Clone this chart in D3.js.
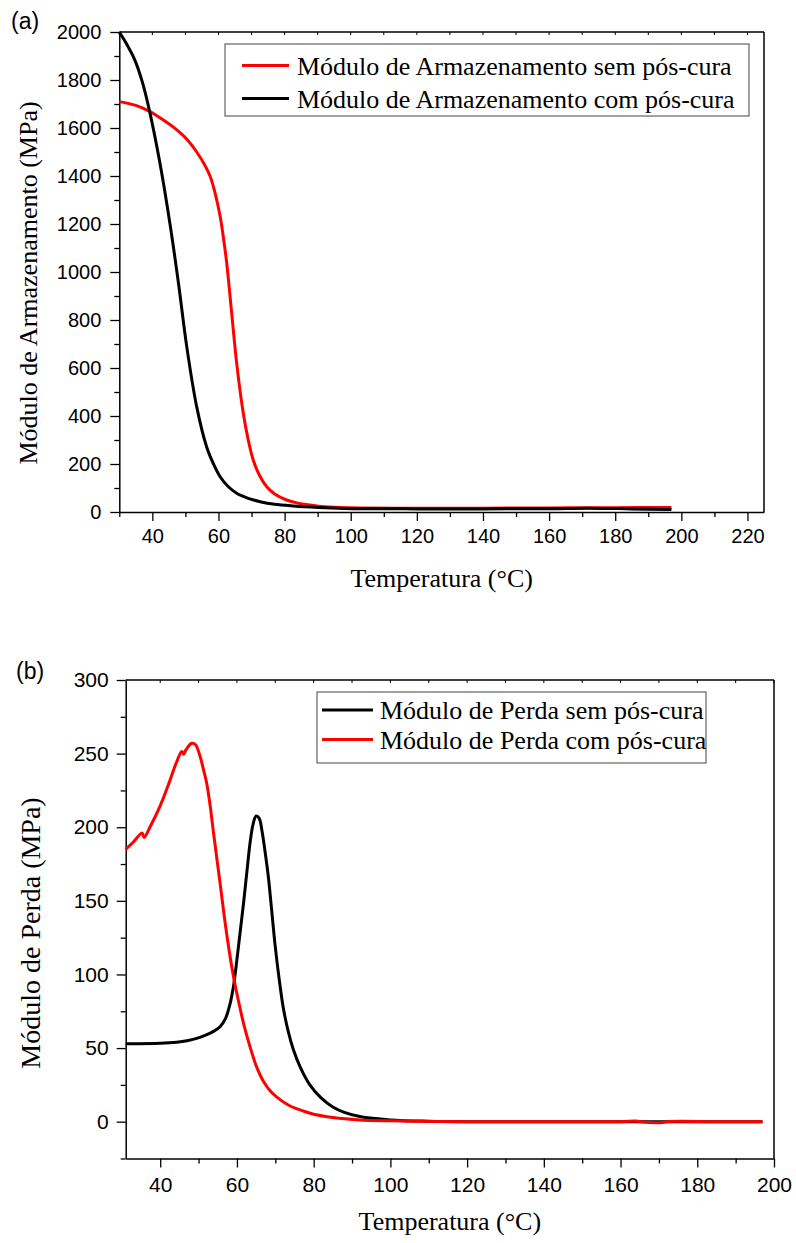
<!DOCTYPE html>
<html>
<head>
<meta charset="utf-8">
<script src="https://cdn.jsdelivr.net/npm/d3@7"></script>
<style>
body { margin: 0; background: #fff; }
</style>
</head>
<body>
<svg id="chart" width="796" height="1243"></svg>
<script>
// Panel (a) - storage modulus
var tempArmSem = [30, 35, 39.3, 43, 47.4, 50.5, 53.4, 56, 57.5, 59, 60.5, 61.5, 62.5, 64, 65.5, 67.5, 69, 70.5, 72.5, 74.6, 77, 80.6, 84, 87.7, 92, 100, 120, 140, 160, 180, 197];
var valArmSem  = [1710, 1694, 1668, 1636, 1592, 1552, 1500, 1442, 1398, 1328, 1232, 1142, 1036, 828, 620, 411, 300, 217, 150, 105, 75, 50, 37, 29, 22, 18, 16, 16, 17, 18, 19];

var tempArmCom = [30, 32, 34.7, 37, 39.3, 42.3, 45.3, 47.9, 50.4, 53.4, 56.4, 58.5, 60.5, 63, 65.5, 69, 72.6, 77, 82.6, 90, 98, 120, 140, 160, 172, 185, 197];
var valArmCom  = [2000, 1955, 1883, 1790, 1661, 1453, 1203, 953, 689, 439, 272, 200, 147, 105, 78, 57, 43, 32, 25, 19, 15, 13, 13, 14, 16, 13, 10];

// Panel (b) - loss modulus
var tempPerdaSem = [31, 40, 44.3, 47, 49.5, 52, 54, 55.6, 57, 58.2, 59.1, 59.9, 60.8, 61.7, 62.6, 63.4, 64.2, 65, 65.8, 66.5, 67.3, 68.2, 69, 69.9, 71, 72.1, 73.4, 74.7, 76.5, 79, 82, 85, 88, 92, 100, 110, 120, 160, 197];
var valPerdaSem  = [53, 53.3, 54, 55, 56.6, 59, 61.5, 64.5, 70, 80, 92, 108, 128, 148, 170, 189, 202, 207.6, 206, 198, 184, 166, 145, 121, 97, 77, 61, 49, 37, 25, 16, 10, 6.3, 3.5, 1.2, 0.3, 0, 0, 0];

var tempPerdaCom = [31, 33, 35.3, 35.8, 37.5, 39.9, 42, 44.3, 45.6, 46.1, 46.7, 48.2, 49.2, 50.4, 51.2, 52.1, 53, 53.8, 55.6, 57.3, 59.1, 60.4, 61.7, 63.4, 65.1, 67, 69, 71.5, 74, 77, 80, 85, 92, 100, 110, 120, 140, 160, 164, 165, 171, 172, 185, 197];
var valPerdaCom  = [185, 190, 196, 193, 201, 214, 228, 244.5, 251.5, 249.5, 252.5, 257, 256, 248, 240, 230, 215, 198, 162, 128, 98.5, 82, 67, 51, 37.4, 27, 20, 14.5, 10.5, 7.5, 5, 2.8, 1.2, 0.6, 0.2, 0, 0, 0, 0.5, 0, -0.6, 0, 0, 0];

// ticks
var xTicksA = [40, 60, 80, 100, 120, 140, 160, 180, 200, 220];
var yTicksA = [0, 200, 400, 600, 800, 1000, 1200, 1400, 1600, 1800, 2000];
var xTicksB = [40, 60, 80, 100, 120, 140, 160, 180, 200];
var yTicksB = [0, 50, 100, 150, 200, 250, 300];

var legendA = ['Módulo de Armazenamento sem pós-cura', 'Módulo de Armazenamento com pós-cura'];
var legendB = ['Módulo de Perda sem pós-cura', 'Módulo de Perda com pós-cura'];

var SERIF = '"Liberation Serif", "Times New Roman", serif';
var SANS = '"Liberation Sans", Arial, sans-serif';

var svg = d3.select('#chart');

function rangeStep(a, b, s){
	var out = [];
	for(var v = a; v <= b + 1e-9; v += s){ out.push(v); }
	return out;
}

function drawPanel(p){
	var g = svg.append('g');
	var x = d3.scaleLinear().domain(p.xDomain).range([p.left, p.right]);
	var y = d3.scaleLinear().domain(p.yDomain).range([p.bottom, p.top]);

	// frame: top and right lines
	g.append('line').attr('x1', p.left).attr('x2', p.right).attr('y1', p.top).attr('y2', p.top)
		.attr('stroke', '#000').attr('stroke-width', 1.5);
	g.append('line').attr('x1', p.right).attr('x2', p.right).attr('y1', p.top).attr('y2', p.bottom)
		.attr('stroke', '#000').attr('stroke-width', 1.5);

	// top ticks pointing in
	var topTicks = rangeStep(p.xMinorStart, p.xDomain[1], 10);
	g.selectAll('.tt').data(topTicks).enter().append('line')
		.attr('x1', function(d){ return x(d); }).attr('x2', function(d){ return x(d); })
		.attr('y1', p.top).attr('y2', p.top + 3)
		.attr('stroke', '#000').attr('stroke-width', 1);

	// minor ticks
	var xMinor = rangeStep(p.xMinorStart, p.xDomain[1], 10).filter(function(d){ return p.xTicks.indexOf(d) < 0; });
	var yMinor = rangeStep(p.yDomain[0], p.yDomain[1], p.yMinorStep).filter(function(d){ return p.yTicks.indexOf(d) < 0; });

	g.append('g').attr('transform', 'translate(0,' + p.bottom + ')')
		.call(d3.axisBottom(x).tickValues(xMinor).tickSize(5).tickSizeOuter(0).tickFormat(''))
		.call(function(s){ s.select('.domain').remove(); });
	g.append('g').attr('transform', 'translate(' + p.left + ',0)')
		.call(d3.axisLeft(y).tickValues(yMinor).tickSize(5).tickSizeOuter(0).tickFormat(''))
		.call(function(s){ s.select('.domain').remove(); });

	// major axes
	var xAxis = g.append('g').attr('transform', 'translate(0,' + p.bottom + ')')
		.call(d3.axisBottom(x).tickValues(p.xTicks).tickSize(9).tickSizeOuter(0).tickPadding(p.xPad).tickFormat(d3.format('d')));
	var yAxis = g.append('g').attr('transform', 'translate(' + p.left + ',0)')
		.call(d3.axisLeft(y).tickValues(p.yTicks).tickSize(9).tickSizeOuter(0).tickPadding(p.yPad).tickFormat(d3.format('d')));

	[xAxis, yAxis].forEach(function(a){
		a.selectAll('.domain').attr('stroke-width', 1.5);
		a.selectAll('text').style('font-family', SANS).style('font-size', p.tickFont).attr('fill', '#000');
	});
	g.selectAll('.tick line').attr('stroke-width', 1.3);

	// curves
	var line = d3.line()
		.x(function(d){ return x(d[0]); })
		.y(function(d){ return y(d[1]); })
		.curve(d3.curveCatmullRom.alpha(0.5));

	p.series.forEach(function(s){
		var pts = s.t.map(function(t, i){ return [t, s.v[i]]; });
		g.append('path').datum(pts)
			.attr('d', line)
			.attr('fill', 'none')
			.attr('stroke', s.color)
			.attr('stroke-width', 3)
			.attr('stroke-linejoin', 'round');
	});

	// legend
	var lg = p.legend;
	g.append('rect')
		.attr('x', lg.x).attr('y', lg.y).attr('width', lg.w).attr('height', lg.h)
		.attr('fill', '#fff').attr('stroke', '#444').attr('stroke-width', 1);
	lg.items.forEach(function(it, i){
		var ly = lg.rowY[i];
		g.append('line').attr('x1', lg.lineX1).attr('x2', lg.lineX2).attr('y1', ly).attr('y2', ly)
			.attr('stroke', it.color).attr('stroke-width', 3);
		g.append('text').attr('x', lg.textX).attr('y', ly + 9)
			.text(it.label)
			.style('font-family', SERIF).style('font-size', '26px');
	});

	// titles
	g.append('text')
		.attr('x', (p.left + p.right) / 2).attr('y', p.xTitleY)
		.attr('text-anchor', 'middle')
		.text('Temperatura (°C)')
		.style('font-family', SERIF).style('font-size', '26px');
	g.append('text')
		.attr('transform', 'translate(' + p.yTitleX + ',' + p.yTitleCy + ') rotate(-90)')
		.attr('text-anchor', 'middle')
		.text(p.yTitle)
		.style('font-family', SERIF).style('font-size', p.yTitleFont);
	g.append('text')
		.attr('x', p.tag[0]).attr('y', p.tag[1])
		.text(p.tagText)
		.style('font-family', SANS).style('font-size', '23px');
}

drawPanel({
	xDomain: [30, 225], yDomain: [0, 2000],
	left: 119.3, right: 764, top: 32, bottom: 512,
	xTicks: xTicksA, yTicks: yTicksA, xMinorStart: 30, yMinorStep: 100,
	xPad: 8, yPad: 9, tickFont: '20px',
	series: [
		{t: tempArmSem, v: valArmSem, color: '#ff0000'},
		{t: tempArmCom, v: valArmCom, color: '#000000'}
	],
	legend: {
		x: 225, y: 44, w: 524, h: 72, lineX1: 242, lineX2: 289, textX: 297, rowY: [65.6, 98.6],
		items: [{label: legendA[0], color: '#ff0000'}, {label: legendA[1], color: '#000000'}]
	},
	xTitleY: 587, yTitle: 'Módulo de Armazenamento (MPa)', yTitleX: 37, yTitleCy: 283, yTitleFont: '26px',
	tag: [11, 29], tagText: '(a)'
});

drawPanel({
	xDomain: [31, 200], yDomain: [-25, 300],
	left: 125.7, right: 774, top: 680, bottom: 1158.5,
	xTicks: xTicksB, yTicks: yTicksB, xMinorStart: 40, yMinorStep: 25,
	xPad: 10, yPad: 8, tickFont: '21px',
	series: [
		{t: tempPerdaSem, v: valPerdaSem, color: '#000000'},
		{t: tempPerdaCom, v: valPerdaCom, color: '#ff0000'}
	],
	legend: {
		x: 317, y: 692, w: 389, h: 71, lineX1: 322, lineX2: 373, textX: 380, rowY: [710, 739.5],
		items: [{label: legendB[0], color: '#000000'}, {label: legendB[1], color: '#ff0000'}]
	},
	xTitleY: 1230, yTitle: 'Módulo de Perda (MPa)', yTitleX: 40, yTitleCy: 933, yTitleFont: '28px',
	tag: [16, 679], tagText: '(b)'
});
</script>
</body>
</html>
